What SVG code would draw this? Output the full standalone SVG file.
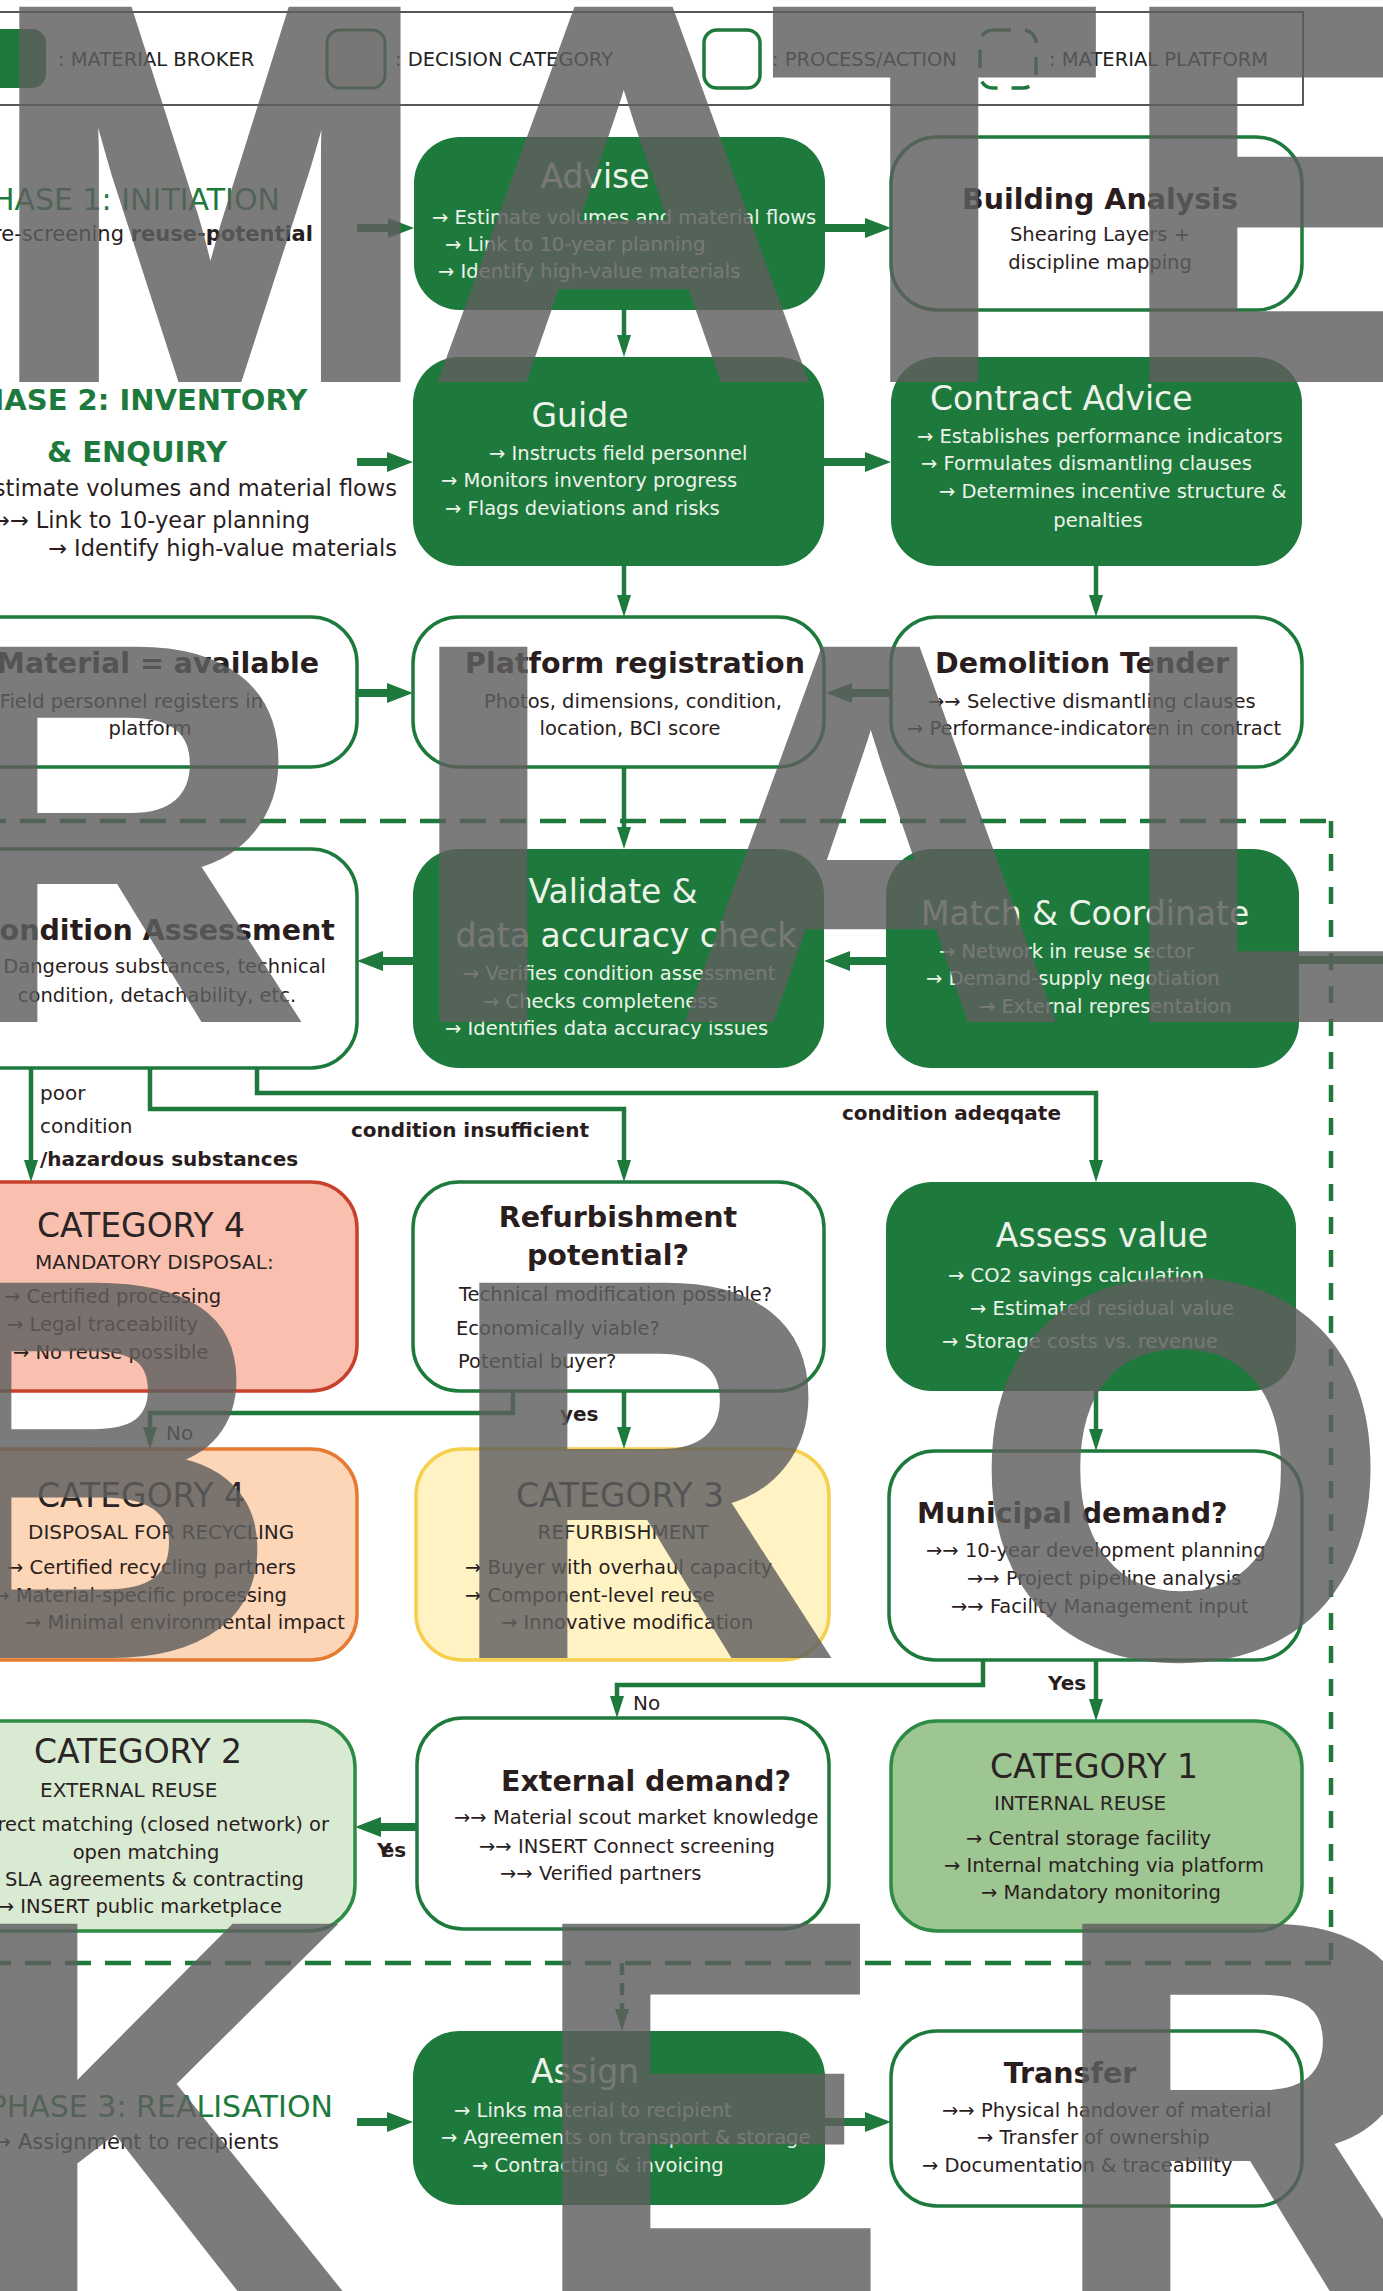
<svg xmlns="http://www.w3.org/2000/svg" width="1383" height="2291" viewBox="0 0 1383 2291">
<style>
text{font-family:"DejaVu Sans","Liberation Sans",sans-serif;}
.gb{fill:#1d7a3c;}
.wb{fill:#ffffff;stroke:#1d7a3c;stroke-width:3.5;}
.gt{fill:#eef3ea;font-size:33px;}
.dt{fill:#2a1d1d;font-size:28.5px;font-weight:bold;}
.bw{fill:#eef3ea;font-size:19.5px;}
.bd{fill:#2a1d1d;font-size:19.5px;}
.pl{fill:#2a1d1d;font-size:22.5px;}
.ct{fill:#2a2424;font-size:33px;}
.cs{fill:#2a2424;font-size:20px;}
.lg{fill:#222;font-size:19.5px;}
.ph{fill:#1d7a3c;font-size:30px;}
.phb{fill:#1d7a3c;font-size:29px;font-weight:bold;}
.lb{fill:#2a1d1d;font-size:20px;}
.lbb{fill:#2a1d1d;font-size:20px;font-weight:bold;}
.tn{fill:none;stroke:#1d7a3c;stroke-width:4.5;marker-end:url(#ah);}
.tk{fill:none;stroke:#1d7a3c;stroke-width:8;marker-end:url(#ahk);}
.dash{fill:none;stroke:#1d7a3c;stroke-width:4.5;}
.wm{opacity:0.82;}
.wm text{font-family:"Liberation Sans",Arial,sans-serif;font-weight:bold;font-size:528px;fill:#5f5f5f;stroke:#5f5f5f;stroke-width:12;stroke-linejoin:miter;}
</style>
<defs>
<marker id="ah" markerUnits="userSpaceOnUse" viewBox="0 0 22 14" markerWidth="22" markerHeight="14" refX="12" refY="7" orient="auto">
<path d="M0,0 L22,7 L0,14 z" fill="#1d7a3c"/>
</marker>
<marker id="ahk" markerUnits="userSpaceOnUse" viewBox="0 0 26 20" markerWidth="26" markerHeight="20" refX="14" refY="10" orient="auto">
<path d="M0,0 L26,10 L0,20 z" fill="#1d7a3c"/>
</marker>
</defs>
<rect x="0" y="0" width="1383" height="2291" fill="#ffffff"/>

<g id="legend">
<rect x="-20" y="12" width="1323" height="93" fill="none" stroke="#222" stroke-width="1.5"/>
<rect x="-14" y="29" width="60" height="59" rx="14" fill="#1d7a3c"/>
<text class="lg" x="58" y="66">: MATERIAL BROKER</text>
<rect x="327" y="30" width="58" height="58" rx="13" fill="#f3e7de" stroke="#1d7a3c" stroke-width="3"/>
<text class="lg" x="395" y="66">: DECISION CATEGORY</text>
<rect x="704" y="30" width="56" height="58" rx="13" fill="#ffffff" stroke="#1d7a3c" stroke-width="3.5"/>
<text class="lg" x="772" y="66">: PROCESS/ACTION</text>
<rect x="980" y="30" width="56" height="58" rx="13" fill="none" stroke="#1d7a3c" stroke-width="3.5" stroke-dasharray="18 14"/>
<text class="lg" x="1049" y="66">: MATERIAL PLATFORM</text>
</g>

<g id="platform-boundary">
<path class="dash" d="M-20,821 H1331" stroke-dasharray="26 14"/>
<path class="dash" d="M1331,821 V1963" stroke-dasharray="17 16"/>
<path class="dash" d="M1331,1963 H-20" stroke-dasharray="26 14"/>
</g>

<g id="phase1">
<text class="ph" x="280" y="210" text-anchor="end">PHASE 1: INITIATION</text>
<text class="pl" x="313" y="241" text-anchor="end" style="font-size:21px">Pre-screening <tspan font-weight="bold">reuse-potential</tspan></text>
</g>
<g id="phase2">
<text class="phb" x="133" y="410" text-anchor="middle">PHASE 2: INVENTORY</text>
<text class="phb" x="137" y="462" text-anchor="middle">&amp; ENQUIRY</text>
<text class="pl" x="397" y="496" text-anchor="end">Estimate volumes and material flows</text>
<text class="pl" x="310" y="528" text-anchor="end">→→ Link to 10-year planning</text>
<text class="pl" x="397" y="556" text-anchor="end">→ Identify high-value materials</text>
</g>
<g id="phase3">
<text class="ph" x="333" y="2117" text-anchor="end">PHASE 3: REALISATION</text>
<text class="pl" x="279" y="2149" text-anchor="end" style="font-size:21px">→ Assignment to recipients</text>
</g>

<g id="advise">
<rect class="gb" x="414" y="137" width="411" height="173" rx="46"/>
<text class="gt" x="595" y="188" text-anchor="middle">Advise</text>
<text class="bw" x="432" y="224">→ Estimate volumes and material flows</text>
<text class="bw" x="445" y="251">→ Link to 10-year planning</text>
<text class="bw" x="438" y="278">→ Identify high-value materials</text>
</g>
<g id="building-analysis">
<rect class="wb" x="891" y="137" width="411" height="173" rx="46"/>
<text class="dt" x="1100" y="209" text-anchor="middle">Building Analysis</text>
<text class="bd" x="1100" y="241" text-anchor="middle">Shearing Layers +</text>
<text class="bd" x="1100" y="269" text-anchor="middle">discipline mapping</text>
</g>
<g id="guide">
<rect class="gb" x="413" y="357" width="411" height="209" rx="46"/>
<text class="gt" x="580" y="427" text-anchor="middle">Guide</text>
<text class="bw" x="489" y="460">→ Instructs field personnel</text>
<text class="bw" x="441" y="487">→ Monitors inventory progress</text>
<text class="bw" x="445" y="515">→ Flags deviations and risks</text>
</g>
<g id="contract-advice">
<rect class="gb" x="891" y="357" width="411" height="209" rx="46"/>
<text class="gt" x="930" y="410">Contract Advice</text>
<text class="bw" x="917" y="443">→ Establishes performance indicators</text>
<text class="bw" x="921" y="470">→ Formulates dismantling clauses</text>
<text class="bw" x="939" y="498">→ Determines incentive structure &amp;</text>
<text class="bw" x="1098" y="527" text-anchor="middle">penalties</text>
</g>
<g id="material-available">
<rect class="wb" x="-54" y="617" width="411" height="150" rx="46"/>
<text class="dt" x="319" y="673" text-anchor="end">Material = available</text>
<text class="bd" x="263" y="708" text-anchor="end">Field personnel registers in</text>
<text class="bd" x="150" y="735" text-anchor="middle">platform</text>
</g>
<g id="platform-registration">
<rect class="wb" x="413" y="617" width="411" height="150" rx="46"/>
<text class="dt" x="635" y="673" text-anchor="middle">Platform registration</text>
<text class="bd" x="633" y="708" text-anchor="middle">Photos, dimensions, condition,</text>
<text class="bd" x="630" y="735" text-anchor="middle">location, BCI score</text>
</g>
<g id="demolition-tender">
<rect class="wb" x="891" y="617" width="411" height="150" rx="46"/>
<text class="dt" x="935" y="673">Demolition Tender</text>
<text class="bd" x="928" y="708">→→ Selective dismantling clauses</text>
<text class="bd" x="907" y="735">→ Performance-indicatoren in contract</text>
</g>
<g id="condition-assessment">
<rect class="wb" x="-54" y="849" width="411" height="219" rx="46"/>
<text class="dt" x="335" y="940" text-anchor="end">Condition Assessment</text>
<text class="bd" x="326" y="973" text-anchor="end">Dangerous substances, technical</text>
<text class="bd" x="157" y="1002" text-anchor="middle">condition, detachability, etc.</text>
</g>
<g id="validate">
<rect class="gb" x="413" y="849" width="411" height="219" rx="46"/>
<text class="gt" x="613" y="903" text-anchor="middle">Validate &amp;</text>
<text class="gt" x="626" y="947" text-anchor="middle">data accuracy check</text>
<text class="bw" x="463" y="980">→ Verifies condition assessment</text>
<text class="bw" x="483" y="1008">→ Checks completeness</text>
<text class="bw" x="445" y="1035">→ Identifies data accuracy issues</text>
</g>
<g id="match-coordinate">
<rect class="gb" x="886" y="849" width="413" height="219" rx="46"/>
<text class="gt" x="921" y="925">Match &amp; Coordinate</text>
<text class="bw" x="939" y="958">→ Network in reuse sector</text>
<text class="bw" x="926" y="985">→ Demand-supply negotiation</text>
<text class="bw" x="979" y="1013">→ External representation</text>
</g>
<g id="category4-mandatory">
<rect x="-54" y="1182" width="411" height="209" rx="46" fill="#f9c0af" stroke="#c8412d" stroke-width="3.5"/>
<text class="ct" x="37" y="1237">CATEGORY 4</text>
<text class="cs" x="35" y="1269">MANDATORY DISPOSAL:</text>
<text class="bd" x="4" y="1303">→ Certified processing</text>
<text class="bd" x="7" y="1331">→ Legal traceability</text>
<text class="bd" x="13" y="1359">→ No reuse possible</text>
</g>
<g id="refurbishment-potential">
<rect class="wb" x="413" y="1182" width="411" height="209" rx="46"/>
<text class="dt" x="618" y="1227" text-anchor="middle">Refurbishment</text>
<text class="dt" x="608" y="1265" text-anchor="middle">potential?</text>
<text class="bd" x="459" y="1301">Technical modification possible?</text>
<text class="bd" x="456" y="1335">Economically viable?</text>
<text class="bd" x="458" y="1368">Potential buyer?</text>
</g>
<g id="assess-value">
<rect class="gb" x="886" y="1182" width="410" height="209" rx="46"/>
<text class="gt" x="1102" y="1247" text-anchor="middle">Assess value</text>
<text class="bw" x="948" y="1282">→ CO2 savings calculation</text>
<text class="bw" x="970" y="1315">→ Estimated residual value</text>
<text class="bw" x="942" y="1348">→ Storage costs vs. revenue</text>
</g>
<g id="category4-recycling">
<rect x="-54" y="1449" width="411" height="211" rx="46" fill="#fcd6b6" stroke="#e67a33" stroke-width="3.5"/>
<text class="ct" x="37" y="1507">CATEGORY 4</text>
<text class="cs" x="28" y="1539">DISPOSAL FOR RECYCLING</text>
<text class="bd" x="7" y="1574">→ Certified recycling partners</text>
<text class="bd" x="287" y="1602" text-anchor="end">→ Material-specific processing</text>
<text class="bd" x="25" y="1629">→ Minimal environmental impact</text>
</g>
<g id="category3">
<rect x="416" y="1449" width="413" height="211" rx="46" fill="#fff3c4" stroke="#f6cf4c" stroke-width="3.5"/>
<text class="ct" x="620" y="1507" text-anchor="middle">CATEGORY 3</text>
<text class="cs" x="623" y="1539" text-anchor="middle">REFURBISHMENT</text>
<text class="bd" x="465" y="1574">→ Buyer with overhaul capacity</text>
<text class="bd" x="465" y="1602">→ Component-level reuse</text>
<text class="bd" x="501" y="1629">→ Innovative modification</text>
</g>
<g id="municipal-demand">
<rect class="wb" x="889" y="1451" width="413" height="209" rx="46"/>
<text class="dt" x="917" y="1523">Municipal demand?</text>
<text class="bd" x="926" y="1557">→→ 10-year development planning</text>
<text class="bd" x="967" y="1585">→→ Project pipeline analysis</text>
<text class="bd" x="951" y="1613">→→ Facility Management input</text>
</g>
<g id="category2">
<rect x="-54" y="1721" width="409" height="210" rx="46" fill="#d9ead2" stroke="#2e8b46" stroke-width="3.5"/>
<text class="ct" x="34" y="1763">CATEGORY 2</text>
<text class="cs" x="40" y="1797">EXTERNAL REUSE</text>
<text class="bd" x="329" y="1831" text-anchor="end">Direct matching (closed network) or</text>
<text class="bd" x="146" y="1859" text-anchor="middle">open matching</text>
<text class="bd" x="304" y="1886" text-anchor="end">→ SLA agreements &amp; contracting</text>
<text class="bd" x="282" y="1913" text-anchor="end">→ INSERT public marketplace</text>
</g>
<g id="external-demand">
<rect class="wb" x="417" y="1718" width="412" height="211" rx="46"/>
<text class="dt" x="501" y="1791">External demand?</text>
<text class="bd" x="454" y="1824">→→ Material scout market knowledge</text>
<text class="bd" x="479" y="1853">→→ INSERT Connect screening</text>
<text class="bd" x="500" y="1880">→→ Verified partners</text>
</g>
<g id="category1">
<rect x="891" y="1721" width="411" height="210" rx="46" fill="#9ec692" stroke="#2e8b46" stroke-width="3.5"/>
<text class="ct" x="1094" y="1778" text-anchor="middle">CATEGORY 1</text>
<text class="cs" x="994" y="1810">INTERNAL REUSE</text>
<text class="bd" x="966" y="1845">→ Central storage facility</text>
<text class="bd" x="944" y="1872">→ Internal matching via platform</text>
<text class="bd" x="981" y="1899">→ Mandatory monitoring</text>
</g>
<g id="assign">
<rect class="gb" x="413" y="2031" width="412" height="174" rx="46"/>
<text class="gt" x="585" y="2083" text-anchor="middle">Assign</text>
<text class="bw" x="454" y="2117">→ Links material to recipient</text>
<text class="bw" x="441" y="2144">→ Agreements on transport &amp; storage</text>
<text class="bw" x="472" y="2172">→ Contracting &amp; invoicing</text>
</g>
<g id="transfer">
<rect class="wb" x="891" y="2031" width="411" height="175" rx="46"/>
<text class="dt" x="1070" y="2083" text-anchor="middle">Transfer</text>
<text class="bd" x="942" y="2117">→→ Physical handover of material</text>
<text class="bd" x="977" y="2144">→ Transfer of ownership</text>
<text class="bd" x="922" y="2172">→ Documentation &amp; traceability</text>
</g>

<g id="connectors">
<path class="tk" d="M357,228 H402"/>
<path class="tk" d="M825,228 H879"/>
<path class="tk" d="M357,462 H401"/>
<path class="tk" d="M824,462 H879"/>
<path class="tk" d="M357,693 H401"/>
<path class="tk" d="M891,693 H838"/>
<path class="tk" d="M413,961 H369"/>
<path class="tk" d="M886,961 H836"/>
<path d="M1400,960 H1299" fill="none" stroke="#1d7a3c" stroke-width="8"/>
<path class="tk" d="M417,1827 H367"/>
<path class="tk" d="M357,2122 H401"/>
<path class="tk" d="M825,2122 H879"/>
<path class="tn" d="M624,310 V347"/>
<path class="tn" d="M624,566 V607"/>
<path class="tn" d="M1096,566 V607"/>
<path class="tn" d="M624,767 V839"/>
<path class="tn" d="M31,1068 V1172"/>
<path class="tn" d="M150,1068 V1109 H624 V1172"/>
<path class="tn" d="M257,1068 V1093 H1096 V1172"/>
<path class="tn" d="M513,1391 V1413 H150 V1439"/>
<path class="tn" d="M624,1391 V1439"/>
<path class="tn" d="M1096,1391 V1441"/>
<path class="tn" d="M983,1660 V1685 H617 V1708"/>
<path class="tn" d="M1096,1660 V1711"/>
<path class="tn" d="M622,1963 V2021" stroke-dasharray="12 8"/>
<text class="lb" x="40" y="1100">poor</text>
<text class="lb" x="40" y="1133">condition</text>
<text class="lbb" x="40" y="1166">/hazardous substances</text>
<text class="lbb" x="351" y="1137">condition insufficient</text>
<text class="lbb" x="842" y="1120">condition adeqqate</text>
<text class="lb" x="166" y="1440">No</text>
<text class="lbb" x="560" y="1421">yes</text>
<text class="lb" x="633" y="1710">No</text>
<text class="lbb" x="1048" y="1690">Yes</text>
<text class="lbb" x="377" y="1857">Y<tspan dx="-9">e</tspan>s</text>
</g>

<g id="watermark" class="wm">
<text x="-10 433 773 1120" y="376">MATE</text>
<text x="-80 410 680 1120" y="1016">RIAL</text>
<text x="-106 450 976" y="1652">BRO</text>
<text x="-40 533 1053" y="2293">KER</text>
</g>
</svg>
